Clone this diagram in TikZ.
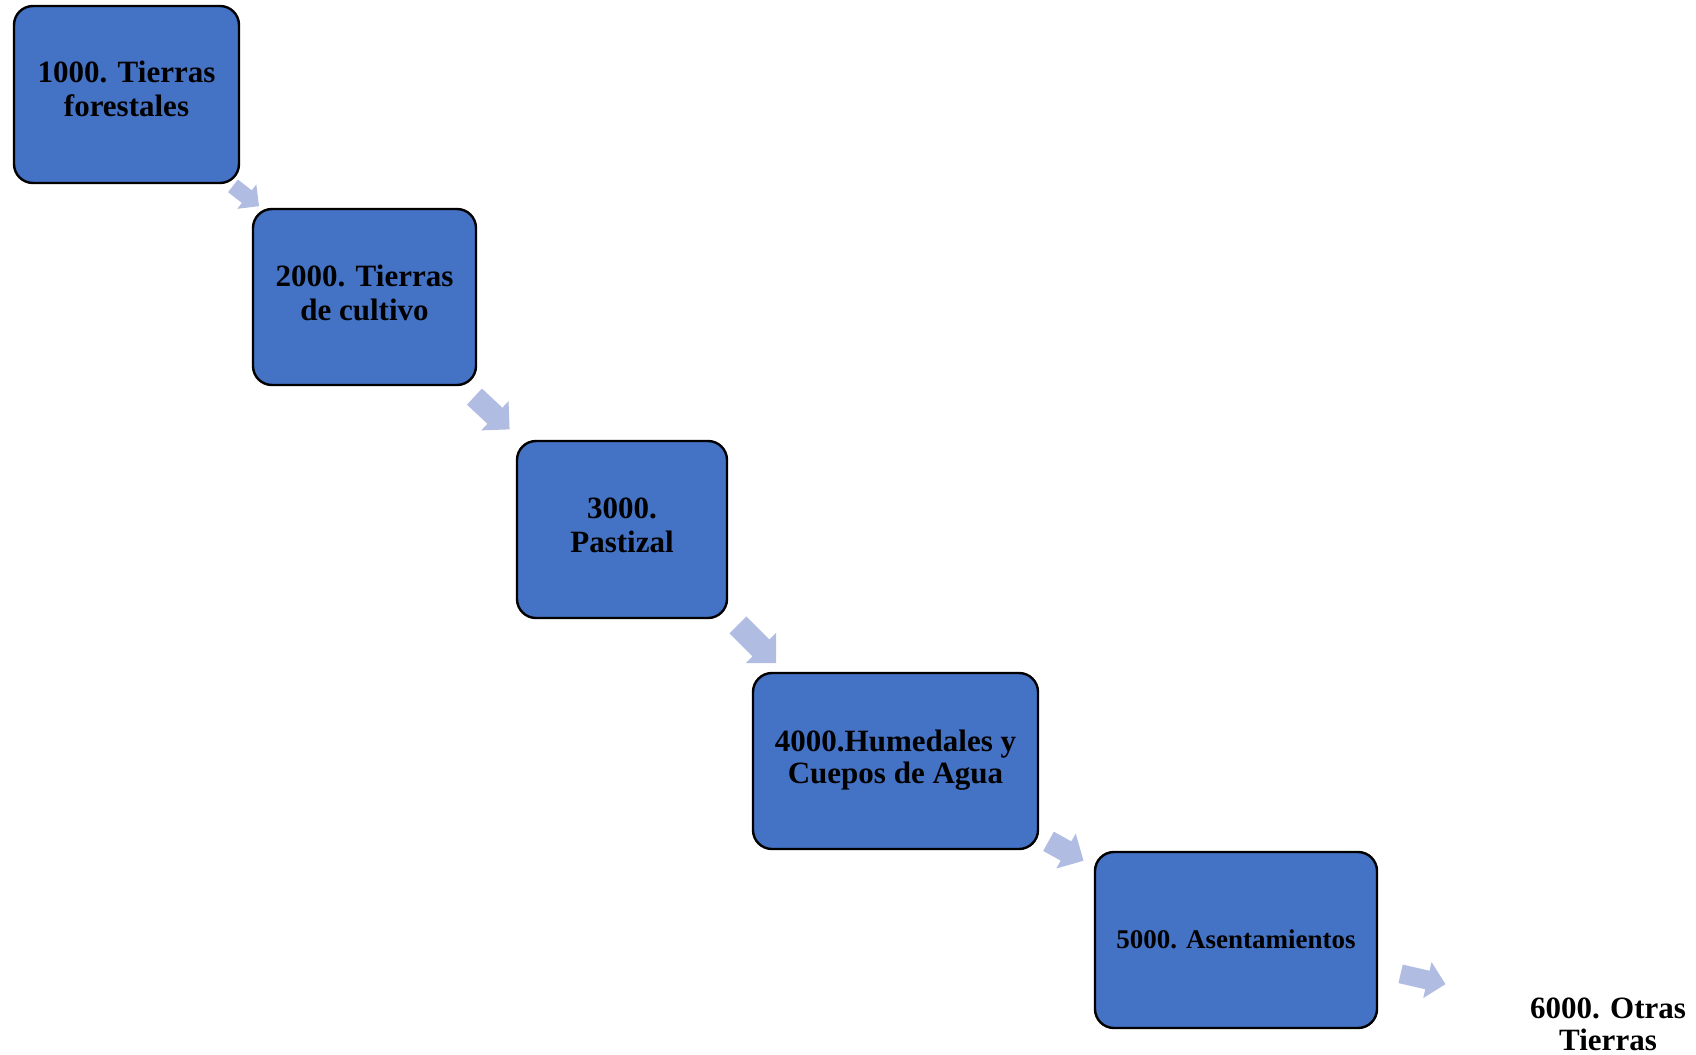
\documentclass[tikz,border=0pt]{standalone}
\usepackage{fontspec}
\setmainfont{Liberation Serif}
\definecolor{boxblue}{HTML}{4472C4}
\definecolor{arrowblue}{RGB}{176,188,226}
% block arrow: centre x, centre y, angle, length, head width, shaft width
\newcommand\blockarrow[6]{%
  \fill[arrowblue, shift={(#1,#2)}, rotate=#3]
    ({-#4/2},{-#6/2}) -- ({#4/2-#5/2},{-#6/2}) -- ({#4/2-#5/2},{-#5/2})
    -- ({#4/2},0) -- ({#4/2-#5/2},{#5/2}) -- ({#4/2-#5/2},{#6/2})
    -- ({-#4/2},{#6/2}) -- cycle;}
\begin{document}
\begin{tikzpicture}[x=1pt,y=-1pt,
  catbox/.style={draw=black, line width=2.4pt, fill=boxblue, rounded corners=19pt,
    inner sep=0pt},
  boxtext/.style={align=center, inner sep=0pt, font=\fontsize{31}{34}\selectfont\bfseries},
  endlabel/.style={align=center, inner sep=0pt, font=\fontsize{31}{32}\selectfont\bfseries}]
\useasboundingbox (0,0) rectangle (1696,1054);

% category boxes
\node[catbox, minimum width=225pt, minimum height=177pt] (c1) at (126.5,94.5) {};
\node[catbox, minimum width=223pt, minimum height=176pt] (c2) at (364.5,297) {};
\node[catbox, minimum width=210pt, minimum height=177pt] (c3) at (622,529.5) {};
\node[catbox, minimum width=285pt, minimum height=176pt] (c4) at (895.5,761) {};
\node[catbox, minimum width=282pt, minimum height=176pt] (c5) at (1236,940) {};

% their labels, set a little above the centre
\node[boxtext] (t1) at ([yshift=5.5pt]c1.center) {1000. Tierras\\forestales};
\node[boxtext] (t2) at ([yshift=4.5pt]c2.center) {2000. Tierras\\de cultivo};
\node[boxtext] (t3) at ([yshift=4.5pt]c3.center) {3000.\\Pastizal};
\node[boxtext, font=\fontsize{31}{32}\selectfont\bfseries] (t4) at ([yshift=0.5pt]c4.center)
  {4000.Humedales y\\Cuepos de Agua};
\node[boxtext, font=\fontsize{27}{30}\selectfont\bfseries] (t5) at ([yshift=1pt]c5.center)
  {5000. Asentamientos};
\node[endlabel] (c6) at (1608,1024) {6000. Otras\\Tierras};

% step arrows between the categories
\blockarrow{246}{196}{-38}{33}{31}{16}
\blockarrow{492}{413}{-43}{48}{40}{22}
\blockarrow{757}{644}{-45}{54}{43}{24}
\blockarrow{1066}{851}{-29}{40}{40}{22}
\blockarrow{1423}{979}{-13}{46}{37}{19}
\end{tikzpicture}
\end{document}
